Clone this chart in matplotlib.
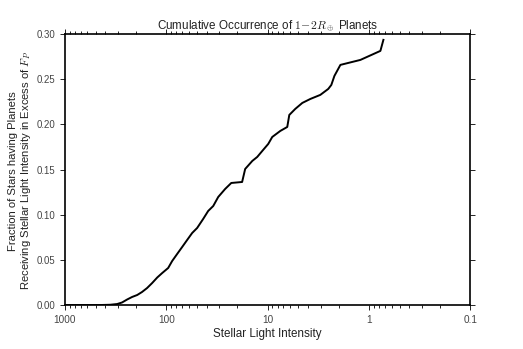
import numpy as np
import matplotlib
matplotlib.use("Agg")
import matplotlib.pyplot as plt
from matplotlib.ticker import FixedLocator, FixedFormatter, LogLocator, NullFormatter

# stellar light intensity (relative to Earth) and cumulative fraction
intensity = [977, 451, 359, 306, 274, 244, 218, 194, 174, 155, 138, 123, 110,
             96, 87.7, 78.3, 69.9, 62.4, 55.7, 49.7, 43.4, 38.7, 34.5, 30.8,
             26.3, 22.9, 17.9, 16.7, 14.2, 12.7, 11.1, 9.89, 9.03, 7.52, 6.42,
             6.13, 5.35, 4.56, 3.80, 3.03, 2.53, 2.36, 2.20, 1.92, 1.22, 0.774,
             0.723]
fraction = [0.0, 0.0, 0.0003, 0.0011, 0.0028, 0.0061, 0.0089, 0.0111, 0.0144,
            0.0188, 0.0244, 0.0305, 0.0354, 0.041, 0.0487, 0.0565, 0.0642,
            0.072, 0.0797, 0.0853, 0.0952, 0.1041, 0.1096, 0.1196, 0.1285,
            0.1351, 0.1362, 0.1506, 0.1595, 0.1639, 0.1717, 0.1783, 0.186,
            0.1927, 0.1971, 0.2104, 0.2171, 0.2237, 0.2281, 0.2326, 0.2392,
            0.2436, 0.2536, 0.2658, 0.2713, 0.2813, 0.2935]

xticks = [1000, 100, 10, 1, 0.1]
xtick_labels = ["1000", "100", "10", "1", "0.1"]
yticks = [0.0, 0.05, 0.10, 0.15, 0.20, 0.25, 0.30]

plt.rcParams['font.family'] = ['Liberation Sans', 'DejaVu Sans']
plt.rcParams['mathtext.fontset'] = 'cm'

fig = plt.figure(figsize=(5.23, 3.49), dpi=100)
ax = fig.add_axes([0.1243, 0.126, 0.7753, 0.7766])

ax.plot(intensity, fraction, color='black', linewidth=1.4)

ax.set_xscale('log')
ax.set_xlim(1000, 0.1)
ax.set_ylim(0, 0.30)

ax.xaxis.set_major_locator(FixedLocator(xticks))
ax.xaxis.set_major_formatter(FixedFormatter(xtick_labels))
ax.xaxis.set_minor_locator(LogLocator(base=10, subs=np.arange(2, 10)))
ax.xaxis.set_minor_formatter(NullFormatter())
ax.set_yticks(yticks)
ax.set_yticklabels([f"{v:.2f}" for v in yticks])

ax.tick_params(which='both', direction='out', top=True, right=True,
               labelsize=7.2, labelcolor='#444444', width=0.6)
ax.tick_params(axis='y', labelsize=6.9)
ax.tick_params(which='major', length=3.5)
ax.tick_params(which='minor', length=2)
for s in ax.spines.values():
    s.set_linewidth(1.2)

ax.set_xlabel("Stellar Light Intensity", fontsize=8.4, labelpad=2,
              color='#222222')
fig.text(20.5 / 523, 0.51,
         "Fraction of Stars having Planets\n"
         "Receiving Stellar Light Intensity in Excess of $F_P$",
         rotation=90, ha='center', va='center', multialignment='center',
         fontsize=8.1, color='#222222', linespacing=1.15)
ax.set_title(r"Cumulative Occurrence of $1\!-\!2R_\oplus$ Planets",
             fontsize=8.4, pad=2, color='#222222')

fig.savefig("out.png", dpi=100)
